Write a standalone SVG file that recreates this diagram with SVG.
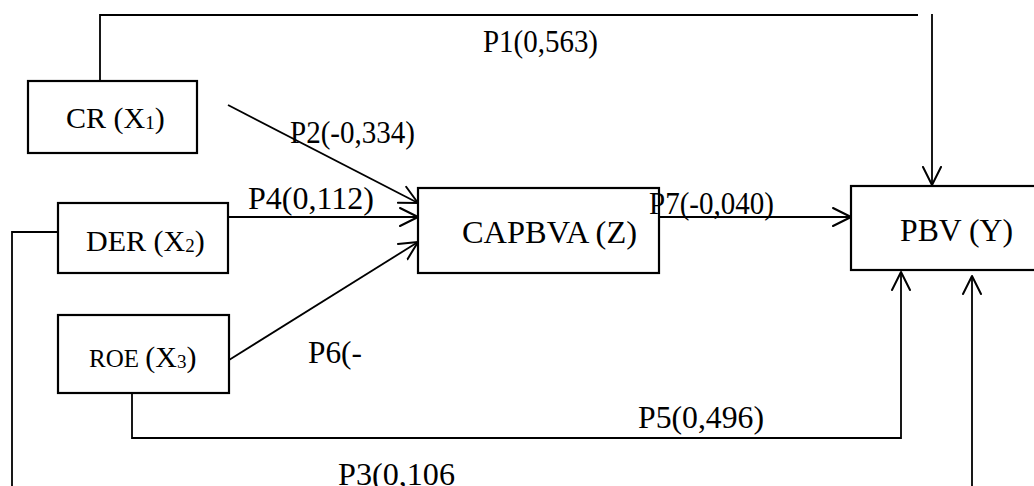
<svg xmlns="http://www.w3.org/2000/svg" width="1034" height="486" viewBox="0 0 1034 486">
<style>
  .box { fill: #ffffff; stroke: #000000; stroke-width: 2.2; }
  .t { font-family: "Liberation Serif", "Times New Roman", serif; font-size: 31px; fill: #000000; }
  .ts { font-family: "Liberation Serif", "Times New Roman", serif; font-size: 30px; fill: #000000; }
  .lbl { font-family: "Liberation Serif", "Times New Roman", serif; font-size: 31px; fill: #000000; }
  .conn { fill: none; stroke: #000000; stroke-width: 1.8; }
  .arr { marker-end: url(#v); }
</style>
<defs>
  <marker id="v" markerUnits="userSpaceOnUse" markerWidth="22" markerHeight="22" viewBox="0 0 22 22" refX="19" refY="11" orient="auto">
    <path d="M1,2 L19,11 L1,20" fill="none" stroke="#000000" stroke-width="2" stroke-linejoin="round" stroke-linecap="round"/>
  </marker>
</defs>
<rect width="1034" height="486" fill="#ffffff"/>

<g id="connectors">
  <path class="conn" d="M100,81 V15 H918" stroke-width="3"/>
  <path class="conn arr" d="M932,14 V185"/>
  <path class="conn arr" d="M228,105 L418,203"/>
  <path class="conn arr" d="M228,217 H418"/>
  <path class="conn arr" d="M229,360 L418,242"/>
  <path class="conn arr" d="M659,217 H851"/>
  <path class="conn arr" d="M132,393 V438 H901 V272"/>
  <path class="conn arr" d="M58,232 H12 V500 H972 V276"/>
</g>

<g id="node-cr">
  <rect class="box" x="28" y="81" width="169" height="72" stroke-width="3"/>
  <text class="ts" x="66" y="128">CR (X<tspan font-size="19" dy="1">1</tspan><tspan dy="-1">)</tspan></text>
</g>
<g id="node-der">
  <rect class="box" x="58" y="203" width="170" height="70"/>
  <text class="ts" x="86" y="251">DER (X<tspan font-size="19" dy="1">2</tspan><tspan dy="-1">)</tspan></text>
</g>
<g id="node-roe">
  <rect class="box" x="58" y="315" width="171" height="78"/>
  <text class="ts" x="89" y="367"><tspan font-size="25">ROE </tspan>(X<tspan font-size="19" dy="1">3</tspan><tspan dy="-1">)</tspan></text>
</g>
<g id="node-capbva">
  <rect class="box" x="418" y="188" width="241" height="85"/>
  <text class="t" x="462" y="243" textLength="175" lengthAdjust="spacingAndGlyphs">CAPBVA (Z)</text>
</g>
<g id="node-pbv">
  <rect class="box" x="851" y="186" width="200" height="84"/>
  <text class="t" x="900" y="241" textLength="113" lengthAdjust="spacingAndGlyphs">PBV (Y)</text>
</g>

<g id="labels">
  <text class="lbl" x="483" y="52" textLength="115" lengthAdjust="spacingAndGlyphs">P1(0,563)</text>
  <text class="lbl" x="290" y="143" textLength="125" lengthAdjust="spacingAndGlyphs">P2(-0,334)</text>
  <text class="lbl" x="248" y="209" textLength="126" lengthAdjust="spacingAndGlyphs">P4(0,112)</text>
  <text class="lbl" x="649" y="214" textLength="125" lengthAdjust="spacingAndGlyphs">P7(-0,040)</text>
  <text class="lbl" x="308" y="363" textLength="54" lengthAdjust="spacingAndGlyphs">P6(-</text>
  <text class="lbl" x="638" y="428" textLength="126" lengthAdjust="spacingAndGlyphs">P5(0,496)</text>
  <text class="lbl" x="338" y="485" textLength="117" lengthAdjust="spacingAndGlyphs">P3(0,106</text>
</g>
</svg>
